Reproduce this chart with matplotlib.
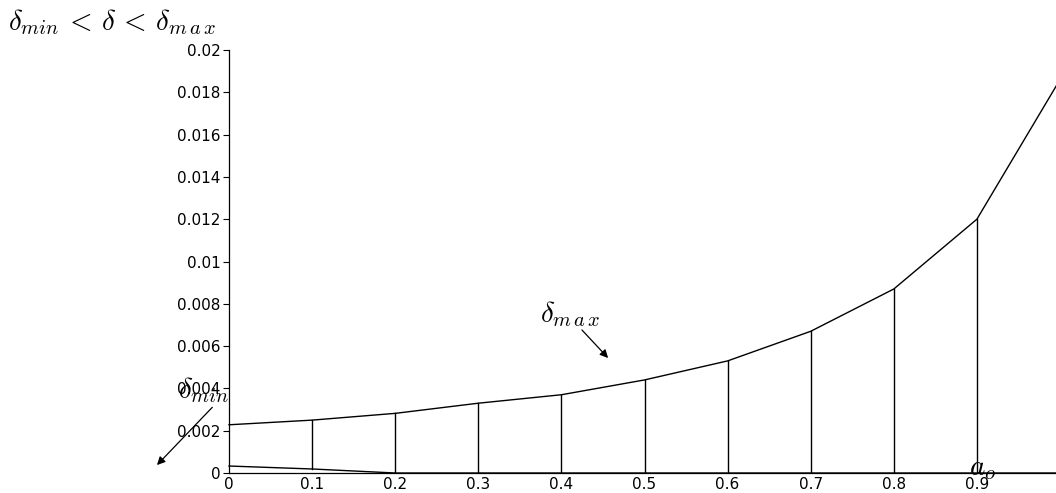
import matplotlib
matplotlib.use("Agg")
import matplotlib.pyplot as plt
import numpy as np

# data
a_o = [0.0, 0.1, 0.2, 0.3, 0.4, 0.5, 0.6, 0.7, 0.8, 0.9, 1.0]
delta_max = [0.00228, 0.0025, 0.00282, 0.0033, 0.0037, 0.0044, 0.0053, 0.0067, 0.0087, 0.0120, 0.0186]
delta_min = [0.00033, 0.00019, 0.0, 0.0, 0.0, 0.0, 0.0, 0.0, 0.0, 0.0, 0.0]
xticks = [0, 0.1, 0.2, 0.3, 0.4, 0.5, 0.6, 0.7, 0.8, 0.9]
xtick_labels = ['0', '0.1', '0.2', '0.3', '0.4', '0.5', '0.6', '0.7', '0.8', '0.9']
yticks = [0, 0.002, 0.004, 0.006, 0.008, 0.01, 0.012, 0.014, 0.016, 0.018, 0.02]
ytick_labels = ['0', '0.002', '0.004', '0.006', '0.008', '0.01', '0.012', '0.014', '0.016', '0.018', '0.02']

plt.rcParams['mathtext.fontset'] = 'cm'
plt.rcParams['font.family'] = ['DejaVu Sans']

fig = plt.figure(figsize=(10.56, 4.93), dpi=100)
ax = fig.add_axes([229/1056, 20/493, 831/1056, 423/493])

lw = 1.0
ax.plot(a_o, delta_max, color='black', lw=lw, clip_on=False)
ax.plot(a_o, delta_min, color='black', lw=lw, clip_on=False)
for x, lo, hi in zip(a_o[1:-1], delta_min[1:-1], delta_max[1:-1]):
    ax.plot([x, x], [lo, hi], color='black', lw=lw)

ax.set_xlim(0, 1.0)
ax.set_ylim(0, 0.02)
ax.set_xticks(xticks)
ax.set_xticklabels(xtick_labels)
ax.set_yticks(yticks)
ax.set_yticklabels(ytick_labels)
ax.tick_params(axis='both', direction='out', length=4, width=0.8, labelsize=11, pad=2)
ax.tick_params(axis='x', length=0, pad=3)
for s in ['top', 'right']:
    ax.spines[s].set_visible(False)
for s in ['left', 'bottom']:
    ax.spines[s].set_linewidth(0.9)

# annotations
ms = 21
ax.annotate('', xy=(0.4585, 0.00534), xytext=(0.4224, 0.00686),
            arrowprops=dict(arrowstyle='-|>', color='black', lw=0.9, mutation_scale=12),
            annotation_clip=False)
ax.text(0.41, 0.0075, r'$\delta_{m\,a\,x}$', fontsize=ms, ha='center', va='center')

ax.annotate('', xy=(-0.089, 0.00028), xytext=(-0.0178, 0.0032),
            arrowprops=dict(arrowstyle='-|>', color='black', lw=0.9, mutation_scale=12),
            annotation_clip=False)
ax.text(-0.030, 0.0039, r'$\delta_{min}$', fontsize=ms, ha='center', va='center')

ax.text(0.907, 0.00025, r'$a_o$', fontsize=ms, ha='center', va='center')

fig.text(112/1056, 1 - 22/493, r'$\delta_{min}\,<\,\delta\,<\,\delta_{m\,a\,x}$',
         fontsize=ms, ha='center', va='center')

fig.savefig('out.png', dpi=100)
